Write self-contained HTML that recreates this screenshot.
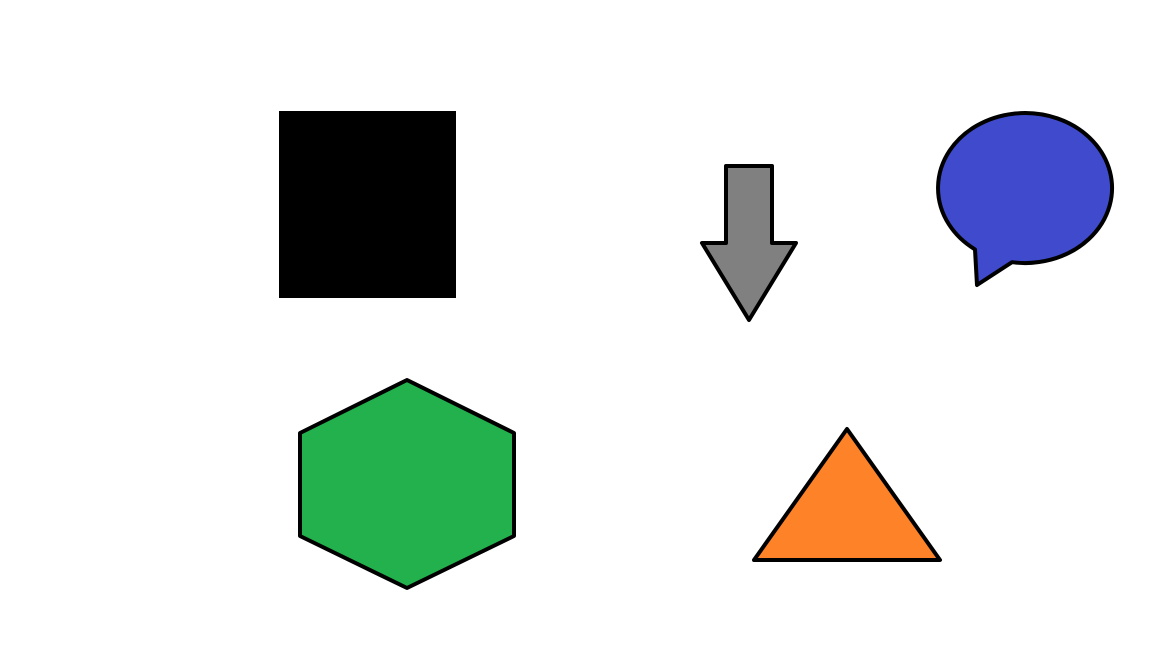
<!DOCTYPE html>
<html><head><meta charset="utf-8"><style>html,body{margin:0;padding:0;background:#fff;width:1152px;height:648px;overflow:hidden}</style></head>
<body>
<svg width="1152" height="648" viewBox="0 0 1152 648" xmlns="http://www.w3.org/2000/svg">
<rect x="279" y="111" width="177" height="187" fill="#000"/>
<polygon points="726,166 772,166 772,243 796,243 749,320 702,243 726,243" fill="#808080" stroke="#000" stroke-width="4" stroke-linejoin="round"/>
<path d="M975,249.4 A87,75 0 1 1 1012,262.2 L977,285 Z" fill="#3f4bcc" stroke="#000" stroke-width="4" stroke-linejoin="round"/>
<polygon points="407,380 514,433 514,536 407,588 300,536 300,433" fill="#23b14d" stroke="#000" stroke-width="4" stroke-linejoin="round"/>
<polygon points="847,429 940,560 754,560" fill="#fe8228" stroke="#000" stroke-width="4" stroke-linejoin="round"/>
</svg>
</body></html>
